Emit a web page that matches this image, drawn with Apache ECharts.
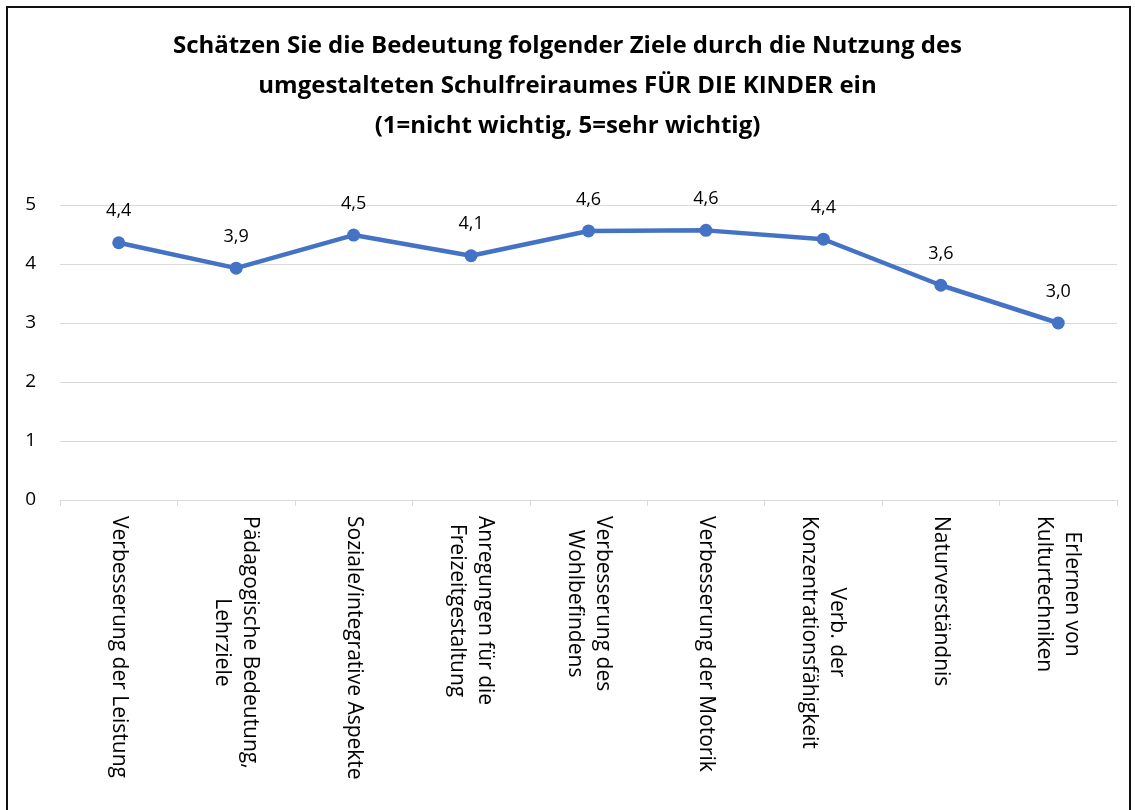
<!DOCTYPE html>
<html>
<head>
<meta charset="utf-8">
<script src="https://cdn.jsdelivr.net/npm/echarts@6/dist/echarts.min.js"></script>
<style>
  html, body { margin: 0; padding: 0; background: #fff; }
  #frame {
    position: absolute; left: 6px; top: 6px; width: 1125px; height: 820px;
    border: 2px solid #111; box-sizing: border-box;
  }
  #main { position: absolute; left: 0; top: 0; width: 1135px; height: 810px; }
</style>
</head>
<body>
<div id="frame"></div>
<div id="main"></div>
<script>
// Kategorien (Ziele)
var categories = [
  'Verbesserung der Leistung',
  'Pädagogische Bedeutung,\nLehrziele',
  'Soziale/integrative Aspekte',
  'Anregungen für die\nFreizeitgestaltung',
  'Verbesserung des\nWohlbefindens',
  'Verbesserung der Motorik',
  'Verb. der\nKonzentrationsfähigkeit',
  'Naturverständnis',
  'Erlernen von\nKulturtechniken'
];
// Mittelwerte (1=nicht wichtig, 5=sehr wichtig)
var values = [4.36, 3.93, 4.49, 4.14, 4.56, 4.57, 4.42, 3.64, 3.0];
var yTicks = [0, 1, 2, 3, 4, 5];

var font = '"Open Sans", "Noto Sans", sans-serif';
var chart = echarts.init(document.getElementById('main'));

var option = {
  backgroundColor: 'transparent',
  title: {
    text: 'Schätzen Sie die Bedeutung folgender Ziele durch die Nutzung des\numgestalteten Schulfreiraumes FÜR DIE KINDER ein\n(1=nicht wichtig, 5=sehr wichtig)',
    left: 'center',
    top: 21,
    textStyle: {
      fontFamily: font,
      fontSize: 24,
      fontWeight: 'bold',
      color: '#000',
      lineHeight: 40,
      align: 'center'
    }
  },
  grid: {
    left: 60,
    right: 18,
    top: 205,
    bottom: 310
  },
  xAxis: {
    type: 'category',
    data: categories,
    boundaryGap: true,
    axisLine: { lineStyle: { color: '#d9d9d9', width: 1 } },
    axisTick: { show: true, length: 6, lineStyle: { color: '#d9d9d9' } },
    axisLabel: {
      rotate: -90,
      margin: 16,
      interval: 0,
      color: '#000',
      fontFamily: font,
      fontSize: 21,
      formatter: function (v) {
        return v.split('\n').map(function (s) { return '{c|' + s + '}'; }).join('\n');
      },
      rich: {
        c: { align: 'center', fontFamily: font, fontSize: 21, color: '#000', lineHeight: 28 }
      }
    }
  },
  yAxis: {
    type: 'value',
    min: yTicks[0],
    max: yTicks[yTicks.length - 1],
    interval: 1,
    axisLine: { show: false },
    axisTick: { show: false },
    splitLine: { lineStyle: { color: '#d9d9d9', width: 1 } },
    axisLabel: {
      color: '#000',
      fontFamily: font,
      fontSize: 19,
      margin: 24
    }
  },
  series: [{
    type: 'line',
    data: values,
    symbol: 'circle',
    symbolSize: 13,
    lineStyle: { color: '#4472C4', width: 4.5 },
    itemStyle: { color: '#4472C4' },
    label: {
      show: true,
      position: 'top',
      distance: 16,
      color: '#000',
      fontFamily: font,
      fontSize: 18,
      formatter: function (p) { return p.value.toFixed(1).replace('.', ','); }
    },
    animation: false
  }],
  animation: false
};

chart.setOption(option);
</script>
</body>
</html>
